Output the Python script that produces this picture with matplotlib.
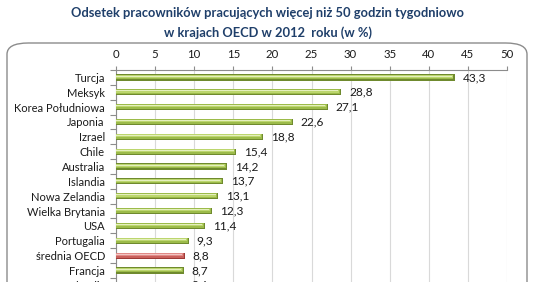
import matplotlib
matplotlib.use("Agg")
import matplotlib.pyplot as plt
from matplotlib.patches import FancyBboxPatch
import numpy as np

categories = ["Turcja", "Meksyk", "Korea Południowa", "Japonia", "Izrael", "Chile",
              "Australia", "Islandia", "Nowa Zelandia", "Wielka Brytania", "USA",
              "Portugalia", "średnia OECD", "Francja", "Irlandia"]
values = [43.3, 28.8, 27.1, 22.6, 18.8, 15.4, 14.2, 13.7, 13.1, 12.3, 11.4, 9.3, 8.8, 8.7, 8.6]
highlight = "średnia OECD"
xticks = [0, 5, 10, 15, 20, 25, 30, 35, 40, 45, 50]
title_lines = ["Odsetek pracowników pracujących więcej niż 50 godzin tygodniowo",
               "w krajach OECD w 2012  roku (w %)"]

plt.rcParams['font.family'] = ['Lato', 'DejaVu Sans']

W, H = 535, 282
fig = plt.figure(figsize=(W / 100, H / 100), dpi=100)

# rounded frame
frame = FancyBboxPatch((7 / W, -0.2), (527 - 7) / W, (H - 43) / H + 0.2,
                       boxstyle="round,pad=0,rounding_size=0.04",
                       transform=fig.transFigure, facecolor="white",
                       edgecolor="#8c8c8c", linewidth=1.0, zorder=-5)
fig.patches.append(frame)

fig.text(0.5, 1 - 13 / H, title_lines[0], ha="center", va="center",
         fontsize=9.3, fontweight="bold", color="#1f3f6a")
fig.text(0.5, 1 - 33 / H, title_lines[1], ha="center", va="center",
         fontsize=9.3, fontweight="bold", color="#1f3f6a")

row_px = 14.85
n = len(categories)
top_px = 70
left_px, right_px = 116, 507
ax_h = n * row_px
ax = fig.add_axes([left_px / W, 1 - (top_px + ax_h) / H, (right_px - left_px) / W, ax_h / H])
ax.set_facecolor("none")
ax.set_zorder(2)

y = np.arange(n)
for i, (c, v) in enumerate(zip(categories, values)):
    if c == highlight:
        cols = ["#9e3a37", "#c9605c", "#e08a87", "#f2c4c2"]
    else:
        cols = ["#6f8a2e", "#9cbb4a", "#bcd66e", "#e4efbd"]
    ax.barh(i, v, height=0.42, color=cols[0], zorder=3)
    ax.barh(i - 0.03, v - 0.15, height=0.32, color=cols[1], zorder=4)
    ax.barh(i - 0.07, v - 0.25, height=0.18, color=cols[2], zorder=5)
    ax.barh(i - 0.09, v - 0.35, height=0.07, color=cols[3], zorder=6)
    ax.text(v + 1.0, i, f"{v:.1f}".replace(".", ","), va="center", ha="left",
            fontsize=8.6, color="#1a1a1a")

ax.set_xlim(0, 50)
ax.set_ylim(n - 0.5, -0.5)
ax.set_xticks(xticks)
ax.xaxis.tick_top()
ax.tick_params(axis="x", length=3, width=0.8, color="#8c8c8c", pad=4,
               labelsize=8.2, labelcolor="#1a1a1a")
ax.set_yticks(y)
ax.set_yticklabels(categories)
ax.tick_params(axis="y", which="major", length=0, pad=8, labelsize=8, labelcolor="#1a1a1a")
ax.set_yticks(np.arange(n + 1) - 0.5, minor=True)
ax.tick_params(axis="y", which="minor", length=4, width=0.8, color="#8c8c8c")
ax.grid(axis="x", color="#d9d9d9", linewidth=0.8, zorder=0)
for s in ["right", "bottom"]:
    ax.spines[s].set_visible(False)
for s in ["left", "top"]:
    ax.spines[s].set_color("#8c8c8c")
    ax.spines[s].set_linewidth(0.8)

fig.savefig("out.png", dpi=100)
